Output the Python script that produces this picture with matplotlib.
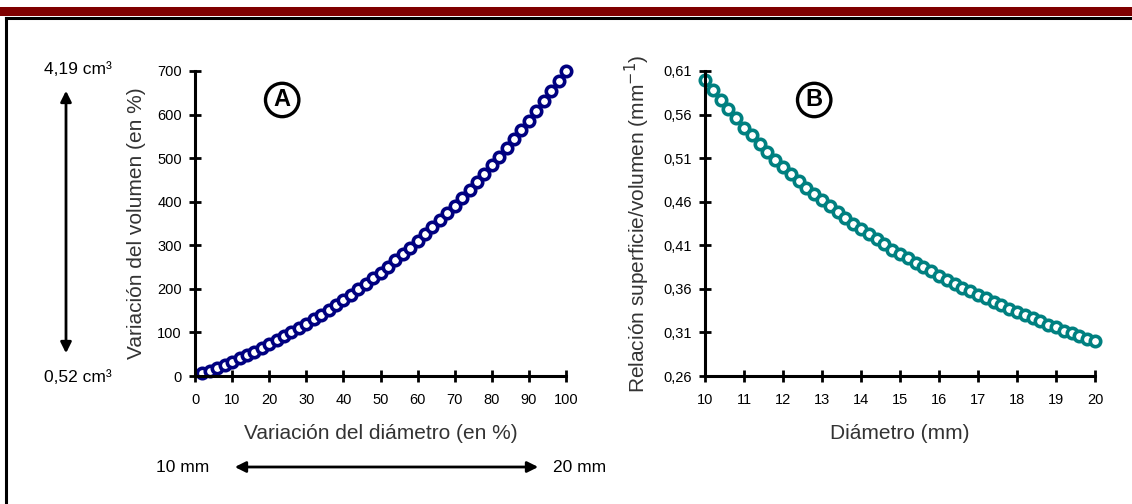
import matplotlib.pyplot as plt
from matplotlib.patches import Rectangle, FancyArrowPatch
from matplotlib.lines import Line2D

plt.rcParams['font.family'] = ['Liberation Sans', 'DejaVu Sans']

# Panel A: diameter variation (%) vs volume variation (%)
diam_var = [2, 4, 6, 8, 10, 12, 14, 16, 18, 20, 22, 24, 26, 28, 30, 32, 34, 36, 38, 40,
            42, 44, 46, 48, 50, 52, 54, 56, 58, 60, 62, 64, 66, 68, 70, 72, 74, 76, 78, 80,
            82, 84, 86, 88, 90, 92, 94, 96, 98, 100]
vol_var = [6.1, 12.5, 19.1, 26.0, 33.1, 40.5, 48.2, 56.1, 64.3, 72.8,
           81.6, 90.7, 100.0, 109.7, 119.7, 130.0, 140.6, 151.5, 162.8, 174.4,
           186.3, 198.6, 211.2, 224.2, 237.5, 251.2, 265.2, 279.6, 294.4, 309.6,
           325.2, 341.1, 357.4, 374.2, 391.3, 408.8, 426.8, 445.2, 464.0, 483.2,
           502.9, 523.0, 543.5, 564.5, 585.9, 607.8, 630.1, 653.0, 676.2, 700.0]

# Panel B: diameter (mm) vs surface/volume ratio (mm^-1)
diam_mm = [10.0, 10.2, 10.4, 10.6, 10.8, 11.0, 11.2, 11.4, 11.6, 11.8,
           12.0, 12.2, 12.4, 12.6, 12.8, 13.0, 13.2, 13.4, 13.6, 13.8,
           14.0, 14.2, 14.4, 14.6, 14.8, 15.0, 15.2, 15.4, 15.6, 15.8,
           16.0, 16.2, 16.4, 16.6, 16.8, 17.0, 17.2, 17.4, 17.6, 17.8,
           18.0, 18.2, 18.4, 18.6, 18.8, 19.0, 19.2, 19.4, 19.6, 19.8, 20.0]
sv_ratio = [0.600, 0.588, 0.577, 0.566, 0.556, 0.545, 0.536, 0.526, 0.517, 0.508,
            0.500, 0.492, 0.484, 0.476, 0.469, 0.462, 0.455, 0.448, 0.441, 0.435,
            0.429, 0.423, 0.417, 0.411, 0.405, 0.400, 0.395, 0.390, 0.385, 0.380,
            0.375, 0.370, 0.366, 0.361, 0.357, 0.353, 0.349, 0.345, 0.341, 0.337,
            0.333, 0.330, 0.326, 0.323, 0.319, 0.316, 0.312, 0.309, 0.306, 0.303, 0.300]

ticks_a_x = [0, 10, 20, 30, 40, 50, 60, 70, 80, 90, 100]
ticks_a_y = [0, 100, 200, 300, 400, 500, 600, 700]
ticks_b_x = [10, 11, 12, 13, 14, 15, 16, 17, 18, 19, 20]
ticks_b_y = [0.26, 0.31, 0.36, 0.41, 0.46, 0.51, 0.56, 0.61]

W, H = 1132, 504
fig = plt.figure(figsize=(W / 100, H / 100), dpi=100)


def px(x, y):
    return x / W, 1 - y / H


def style_axes(ax):
    for s in ['top', 'right']:
        ax.spines[s].set_visible(False)
    for s in ['left', 'bottom']:
        ax.spines[s].set_linewidth(2.2)
    ax.tick_params(direction='inout', length=9, width=2, labelsize=10.5)
    ax.tick_params(axis='x', pad=8)
    ax.tick_params(axis='y', pad=5)
    ax.set_facecolor('none')


# frame / header
fig.add_artist(Rectangle((0, 1 - 15.5 / H), 1, 8.5 / H, transform=fig.transFigure,
                         color='#7f0000', lw=0))
fig.add_artist(Line2D([6 / W, 1], [1 - 18 / H, 1 - 18 / H], transform=fig.transFigure,
                      color='black', lw=2.2))
fig.add_artist(Line2D([6 / W, 6 / W], [0, 1 - 18 / H], transform=fig.transFigure,
                      color='black', lw=2.2))

# Panel A
x0, y0 = px(195, 376)
x1, y1 = px(566, 71)
axA = fig.add_axes([x0, y0, x1 - x0, y1 - y0])
axA.plot(diam_var, vol_var, 'o', ms=7.5, mfc='white', mec='#000080', mew=2.6, clip_on=False)
axA.set_xlim(0, 100)
axA.set_ylim(0, 700)
axA.set_xticks(ticks_a_x)
axA.set_yticks(ticks_a_y)
style_axes(axA)
axA.set_xlabel('Variación del diámetro (en %)', fontsize=15, color='#333333', labelpad=12)
axA.set_ylabel('Variación del volumen (en %)', fontsize=15, color='#333333', labelpad=8)
axA.text(0.235, 0.905, 'A', transform=axA.transAxes, fontsize=17, fontweight='bold',
         ha='center', va='center',
         bbox=dict(boxstyle='circle,pad=0.22', fc='white', ec='black', lw=2.4))

# Panel B
x0, y0 = px(705, 376)
x1, y1 = px(1095, 71)
axB = fig.add_axes([x0, y0, x1 - x0, y1 - y0])
axB.plot(diam_mm, sv_ratio, 'o', ms=7.5, mfc='white', mec='#008080', mew=2.6, clip_on=False)
axB.set_xlim(10, 20)
axB.set_ylim(0.26, 0.61)
axB.set_xticks(ticks_b_x)
axB.set_yticks(ticks_b_y)
axB.set_yticklabels([f'{v:.2f}'.replace('.', ',') for v in ticks_b_y])
style_axes(axB)
axB.set_xlabel('Diámetro (mm)', fontsize=15, color='#333333', labelpad=12)
axB.set_ylabel('Relación superficie/volumen (mm$^{-1}$)', fontsize=15, color='#333333',
               labelpad=8)
axB.text(0.28, 0.905, 'B', transform=axB.transAxes, fontsize=17, fontweight='bold',
         ha='center', va='center',
         bbox=dict(boxstyle='circle,pad=0.22', fc='white', ec='black', lw=2.4))

# side annotations
fig.text(*px(78, 70), '4,19 cm³', fontsize=12.5, ha='center', va='center')
fig.text(*px(78, 377), '0,52 cm³', fontsize=12.5, ha='center', va='center')
fig.add_artist(FancyArrowPatch(px(66, 88), px(66, 356), transform=fig.transFigure,
                               arrowstyle='<|-|>', mutation_scale=16, lw=2, color='black'))
fig.text(*px(183, 467), '10 mm', fontsize=12.5, ha='center', va='center')
fig.text(*px(580, 467), '20 mm', fontsize=12.5, ha='center', va='center')
fig.add_artist(FancyArrowPatch(px(232, 467), px(541, 467), transform=fig.transFigure,
                               arrowstyle='<|-|>', mutation_scale=16, lw=2, color='black'))

fig.savefig('out.png', dpi=100)
